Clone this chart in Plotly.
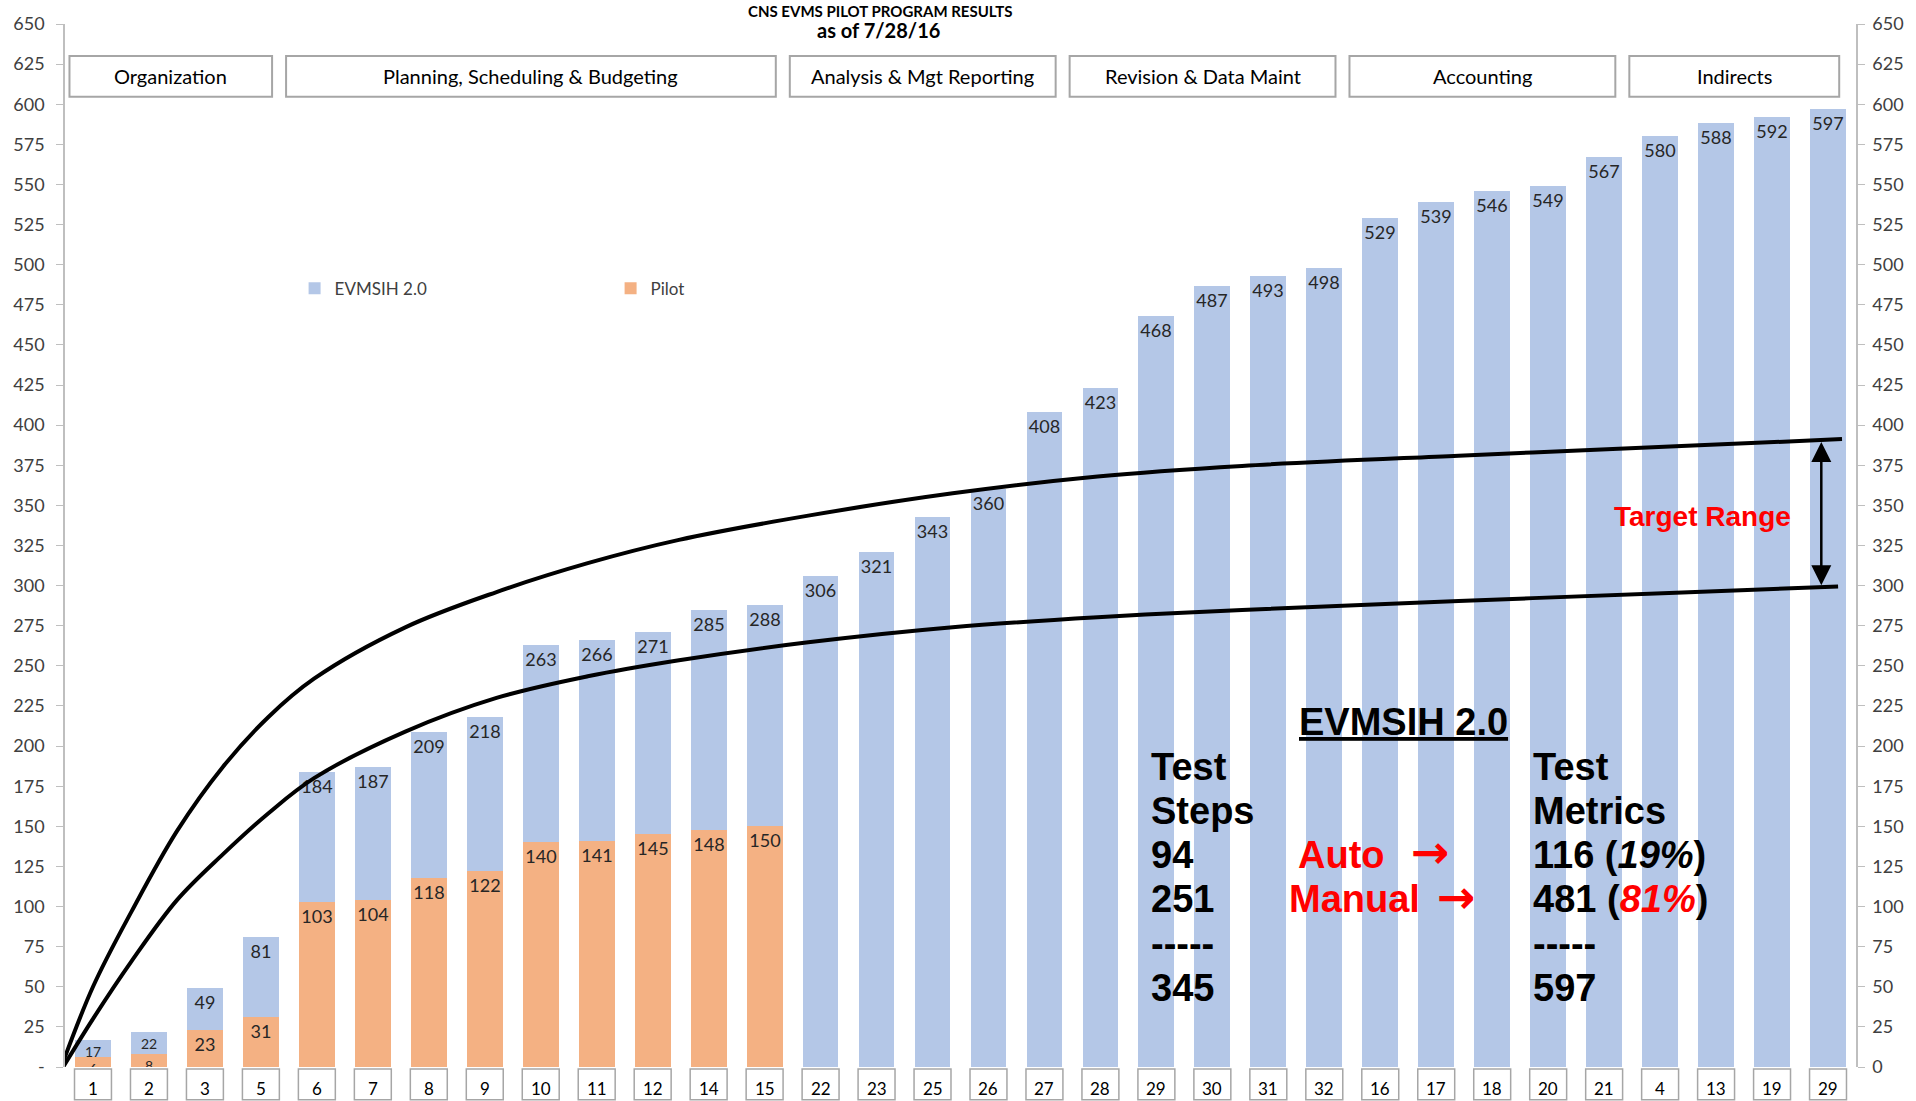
import plotly.graph_objects as go

# ---------------- data ----------------
categories = ["1", "2", "3", "5", "6", "7", "8", "9", "10", "11", "12", "14", "15",
              "22", "23", "25", "26", "27", "28", "29", "30", "31", "32",
              "16", "17", "18", "20", "21", "4", "13", "19", "29"]
evmsih = [17, 22, 49, 81, 184, 187, 209, 218, 263, 266, 271, 285, 288,
          306, 321, 343, 360, 408, 423, 468, 487, 493, 498,
          529, 539, 546, 549, 567, 580, 588, 592, 597]
pilot = [6, 8, 23, 31, 103, 104, 118, 122, 140, 141, 145, 148, 150]

group_names = ["Organization", "Planning, Scheduling & Budgeting", "Analysis & Mgt Reporting",
               "Revision & Data Maint", "Accounting", "Indirects"]
group_sizes = [4, 9, 5, 5, 5, 4]

# target range curves (x = category position, y = value)
upper_x = [-0.62, 0.0, 0.69, 1.50, 2.32, 3.13, 3.95, 5.58, 7.21, 8.84, 10.47,
           12.78, 15.36, 17.95, 20.53, 24.40, 28.28, 31.25]
upper_y = [-5, 50, 97, 147, 187, 218, 242, 274, 296, 314, 328.5,
           343.6, 357.5, 368, 374.6, 381, 386.8, 391.3]
lower_x = [-0.62, 0.0, 0.69, 1.50, 2.32, 3.13, 3.95, 5.58, 7.21, 8.84, 10.47,
           12.78, 15.36, 17.95, 20.53, 24.40, 28.28, 31.18]
lower_y = [-5, 30, 66, 104, 132.5, 158, 180, 209, 230, 243.5, 253.5,
           264.7, 274.1, 280.3, 284.8, 290.4, 295.6, 299.5]

y_ticks = list(range(0, 651, 25))

# ---------------- figure ----------------
BLUE = "#B4C7E7"
ORANGE = "#F4B183"
LABEL_FONT = "Lato, 'Open Sans', sans-serif"
BOLD_FONT = "'Liberation Sans', Arial, sans-serif"
ARROW_FONT = "'DejaVu Sans', sans-serif"

xpos = list(range(len(categories)))
evm_sizes = [14 if v < 30 else 18 for v in evmsih]
pil_sizes = [14 if v < 15 else 18 for v in pilot]

fig = go.Figure()
fig.add_trace(go.Bar(
    x=xpos, y=evmsih, name="EVMSIH 2.0", marker=dict(color=BLUE, line=dict(width=0)),
    width=0.64, text=evmsih, textposition="inside", insidetextanchor="end",
    constraintext="none", textangle=0,
    textfont=dict(family=LABEL_FONT, size=evm_sizes, color="#262626"), hoverinfo="y"))
fig.add_trace(go.Bar(
    x=xpos[:len(pilot)], y=pilot, name="Pilot", marker=dict(color=ORANGE, line=dict(width=0)),
    width=0.64, text=pilot, textposition="inside", insidetextanchor="end",
    constraintext="none", textangle=0,
    textfont=dict(family=LABEL_FONT, size=pil_sizes, color="#262626"), hoverinfo="y"))
fig.add_trace(go.Scatter(x=upper_x, y=upper_y, mode="lines",
                         line=dict(color="black", width=4, shape="spline", smoothing=1.0),
                         showlegend=False, hoverinfo="skip"))
fig.add_trace(go.Scatter(x=lower_x, y=lower_y, mode="lines",
                         line=dict(color="black", width=4, shape="spline", smoothing=1.0),
                         showlegend=False, hoverinfo="skip"))
fig.add_trace(go.Scatter(x=[None], y=[None], yaxis="y2", showlegend=False, hoverinfo="skip"))

W, H = 1916, 1101
L, R, T, B = 65, 49, 17, 34
plot_h = H - T - B
plot_w = W - L - R

def py(px):
    """pixel row -> paper y"""
    return 1 - (px - T) / plot_h

def pxx(px):
    """pixel column -> paper x"""
    return (px - L) / plot_w

annotations = []
shapes = []

# title
annotations.append(dict(text="<b>CNS EVMS PILOT PROGRAM RESULTS</b>", xref="paper", yref="paper",
                        x=pxx(886), y=py(4), showarrow=False, yanchor="middle", borderpad=0,
                        font=dict(family=LABEL_FONT, size=15, color="black")))
annotations.append(dict(text="<b>as of 7/28/16</b>", xref="paper", yref="paper",
                        x=pxx(883), y=py(23.5), showarrow=False, yanchor="middle", borderpad=0,
                        font=dict(family=LABEL_FONT, size=20, color="black")))

# group header boxes
start = 0
for name, size in zip(group_names, group_sizes):
    end = start + size - 1
    x0 = max(start - 0.55, -0.42)
    x1 = end + 0.2
    shapes.append(dict(type="rect", xref="x", yref="y", x0=x0, x1=x1, y0=604.6, y1=630,
                       line=dict(color="#A6A6A6", width=2), fillcolor="white", layer="above"))
    annotations.append(dict(text=name, xref="x", yref="y", x=(x0 + x1) / 2, y=617.3, showarrow=False,
                            font=dict(family=LABEL_FONT, size=20, color="black")))
    start += size

# category label boxes below the plot
for i, c in enumerate(categories):
    shapes.append(dict(type="rect", xref="x", yref="paper", x0=i - 0.33, x1=i + 0.33,
                       y0=py(1100), y1=py(1069), line=dict(color="#A6A6A6", width=1.5),
                       fillcolor="white"))
    annotations.append(dict(text=c, xref="x", yref="paper", x=i, y=py(1089), showarrow=False,
                            borderpad=0, font=dict(family=LABEL_FONT, size=17, color="black"),
                            yanchor="middle", xanchor="center"))

# target range arrow + label
annotations.append(dict(text="", x=30.88, y=300.3, ax=30.88, ay=390.5, xref="x", yref="y",
                        axref="x", ayref="y", showarrow=True, arrowhead=2, startarrowhead=2,
                        arrowside="end+start", arrowsize=1.6, startarrowsize=1.6, arrowwidth=2.5,
                        arrowcolor="black", standoff=0, startstandoff=0))
annotations.append(dict(text="<b>Target Range</b>", x=28.76, y=343, xref="x", yref="y", showarrow=False,
                        font=dict(family=BOLD_FONT, size=28, color="#FF0000")))

# EVMSIH 2.0 summary block
def bold_text(text, x, y, size=38, color="black", xanchor="left", family=BOLD_FONT):
    annotations.append(dict(text=text, x=x, y=y, xref="x", yref="y", showarrow=False,
                            xanchor=xanchor, yanchor="middle",
                            font=dict(family=family, size=size, color=color)))

row_y = [186.9, 159.7, 132.4, 104.6, 76.7, 49.5]
left_col = ["<b>Test</b>", "<b>Steps</b>", "<b>94</b>", "<b>251</b>", "<b>-----</b>", "<b>345</b>"]
right_col = ["<b>Test</b>", "<b>Metrics</b>", "<b>116 (<i>19%</i>)</b>",
             "<b>481 (<i><span style='color:#FF0000'>81%</span></i>)</b>", "<b>-----</b>", "<b>597</b>"]
for t, yv in zip(left_col, row_y):
    bold_text(t, 18.86, yv)
for t, yv in zip(right_col, row_y):
    bold_text(t, 25.69, yv)
bold_text("<b><u>EVMSIH 2.0</u></b>", 23.42, 214.7, xanchor="center")
bold_text("<b>Auto</b>", 21.5, 132.4, color="#FF0000")
bold_text("<b>Manual</b>", 21.33, 104.6, color="#FF0000")
bold_text("<b>→</b>", 23.9, 133.8, size=46, color="#FF0000", xanchor="center", family=ARROW_FONT)
bold_text("<b>→</b>", 24.37, 106.0, size=46, color="#FF0000", xanchor="center", family=ARROW_FONT)

axis_common = dict(range=[0, 650], tickvals=y_ticks, showgrid=False, zeroline=False,
                   showline=True, linecolor="#BFBFBF", linewidth=1.5, ticks="outside",
                   ticklen=7, tickcolor="#BFBFBF", tickfont=dict(family=LABEL_FONT, size=18, color="#404040"),
                   fixedrange=True)

fig.update_layout(
    width=W, height=H, margin=dict(l=L, r=R, t=T, b=B, pad=0),
    paper_bgcolor="white", plot_bgcolor="white",
    barmode="overlay", bargap=0,
    xaxis=dict(range=[-0.5, 31.5], showticklabels=False, showgrid=False, zeroline=False,
               showline=False, ticks="", fixedrange=True),
    yaxis=dict(**axis_common, ticktext=["-" if v == 0 else str(v) for v in y_ticks],
               side="left", ticklabelstandoff=8),
    yaxis2=dict(**axis_common, ticktext=[str(v) for v in y_ticks], side="right",
                overlaying="y", ticklabelstandoff=4),
    legend=dict(orientation="h", x=pxx(296), y=py(283.5), xanchor="left", yanchor="middle",
                font=dict(family=LABEL_FONT, size=17, color="#404040"),
                bgcolor="rgba(0,0,0,0)", entrywidth=271, entrywidthmode="pixels",
                traceorder="normal"),
    showlegend=True,
    annotations=annotations, shapes=shapes,
    font=dict(family=LABEL_FONT),
)

fig.write_html("out.html", config={"displayModeBar": False},
               post_script="document.body.style.margin='0';document.body.style.overflow='hidden';")
